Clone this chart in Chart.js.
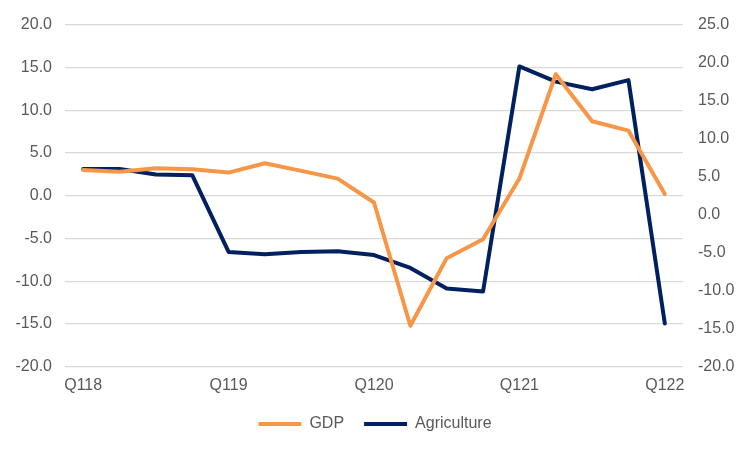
<!DOCTYPE html>
<html>
<head>
<meta charset="utf-8">
<script src="https://cdn.jsdelivr.net/npm/chart.js@4/dist/chart.umd.min.js"></script>
<style>
  html, body { margin: 0; padding: 0; background: #fff; }
  #wrap { width: 750px; height: 450px; }
</style>
</head>
<body>
<div id="wrap"><canvas id="chart"></canvas></div>
<script>
// Quartale Q118 .. Q122
var quarters = ['Q118', 'Q218', 'Q318', 'Q418',
                'Q119', 'Q219', 'Q319', 'Q419',
                'Q120', 'Q220', 'Q320', 'Q420',
                'Q121', 'Q221', 'Q321', 'Q421',
                'Q122'];

// GDP, linke Achse
var gdpValues = [3.0, 2.8, 3.2, 3.1, 2.7, 3.8, 2.9, 2.0, -0.8, -15.2, -7.3, -5.1, 2.0, 14.2, 8.7, 7.6, 0.2];

// Agriculture, rechte Achse
var agricultureValues = [6.0, 6.0, 5.3, 5.2, -4.9, -5.2, -4.9, -4.8, -5.3, -7.0, -9.7, -10.1, 19.5, 17.5, 16.5, 17.7, -14.3];

// Achsen-Bereiche
var leftTicks = { min: -20, max: 20, step: 5 };
var rightTicks = { min: -20, max: 25, step: 5 };

var tickColor = '#595959';
var fontSpec = { family: '"Liberation Sans", Arial, sans-serif', size: 16 };

var ctx = document.getElementById('chart').getContext('2d');

var chart = new Chart(ctx, {
  type: 'line',
  data: {
    labels: quarters,
    datasets: [{
      label: 'GDP',
      data: gdpValues,
      yAxisID: 'y',
      borderColor: '#F79646',
      backgroundColor: '#F79646',
      borderWidth: 4,
      borderCapStyle: 'round',
      borderJoinStyle: 'round',
      pointRadius: 0,
      tension: 0
    }, {
      label: 'Agriculture',
      data: agricultureValues,
      yAxisID: 'y1',
      borderColor: '#002060',
      backgroundColor: '#002060',
      borderWidth: 4,
      borderCapStyle: 'round',
      borderJoinStyle: 'round',
      pointRadius: 0,
      tension: 0
    }]
  },
  options: {
    responsive: true,
    maintainAspectRatio: false,
    animation: false,
    layout: {
      padding: { top: 23, bottom: 8, left: 0, right: 0 }
    },
    plugins: {
      tooltip: { enabled: false },
      legend: {
        position: 'bottom',
        labels: {
          usePointStyle: true,
          pointStyle: 'line',
          pointStyleWidth: 43,
          color: tickColor,
          font: fontSpec,
          padding: 20
        }
      }
    },
    scales: {
      x: {
        offset: true,
        grid: { display: false },
        border: { display: false },
        ticks: {
          color: tickColor,
          font: fontSpec,
          autoSkip: false,
          maxRotation: 0,
          padding: 1,
          callback: function(value, index) {
            return index % 4 === 0 ? quarters[index] : '';
          }
        }
      },
      y: {
        position: 'left',
        min: leftTicks.min,
        max: leftTicks.max,
        grid: { color: '#D9D9D9', lineWidth: 1.3, drawTicks: false },
        border: { display: false },
        ticks: {
          stepSize: leftTicks.step,
          color: tickColor,
          font: fontSpec,
          padding: 13,
          callback: function(v) { return v.toFixed(1); }
        },
        afterFit: function(scale) { scale.width = 65; }
      },
      y1: {
        position: 'right',
        min: rightTicks.min,
        max: rightTicks.max,
        grid: { display: false, drawTicks: false },
        border: { display: false },
        ticks: {
          stepSize: rightTicks.step,
          color: tickColor,
          font: fontSpec,
          padding: 15,
          callback: function(v) { return v.toFixed(1); }
        },
        afterFit: function(scale) { scale.width = 67; }
      }
    }
  }
});
</script>
</body>
</html>
